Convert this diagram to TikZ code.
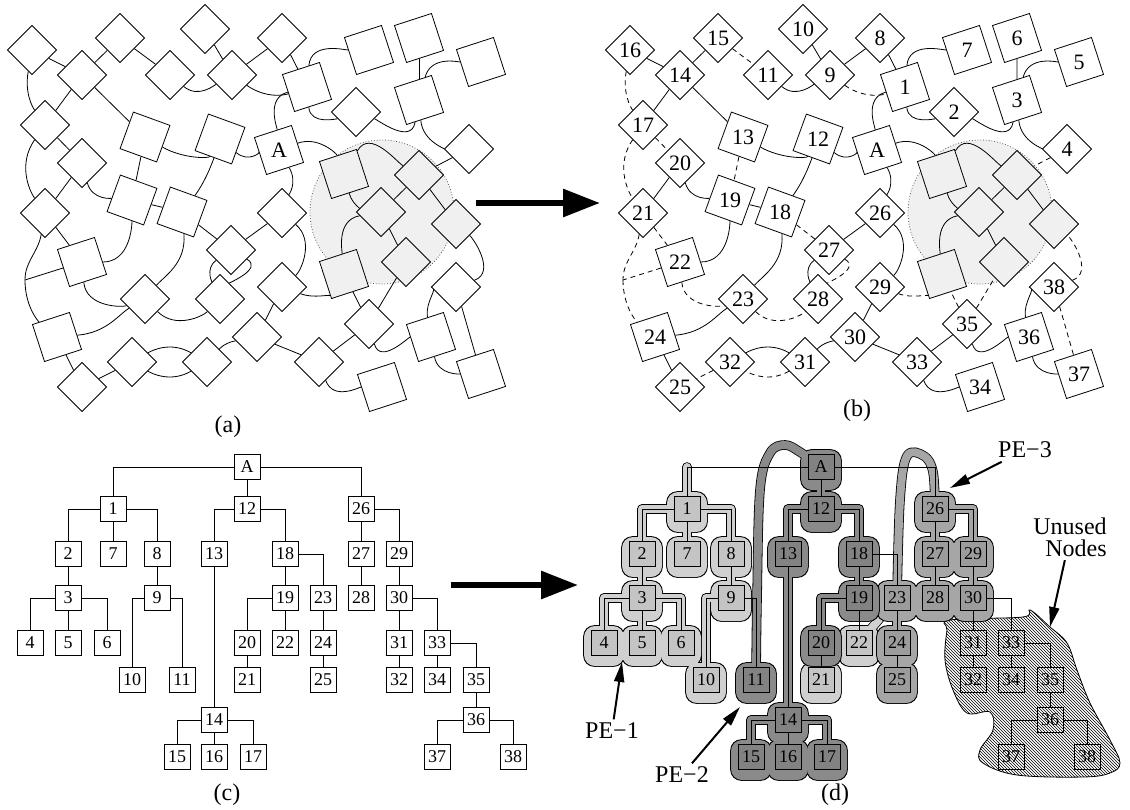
\documentclass[tikz,border=0pt]{standalone}
\usepackage{fontspec}
\setmainfont{Liberation Serif}
\usetikzlibrary{arrows.meta, shapes.geometric, backgrounds, patterns}
\definecolor{circleGray}{HTML}{F0F0F0}
\definecolor{peLight}{HTML}{D0D0D0}
\definecolor{peMid}{HTML}{A6A6A6}
\definecolor{peDark}{HTML}{8A8A8A}

\newif\ifnumbers

% nodes of the network, (b) frame
\newcommand\netnodes{%
  \foreach \n/\x/\y/\s in {16/630/50/dia, 15/718/38/dia, 10/803/29/dia, 8/880/38/dia,
      14/680/75/dia, 11/768/75/dia, 9/830/75/dia, 17/643/125/dia, 20/680/163/dia,
      21/643/213/dia, 26/880/213/dia, 27/829/250/dia, 23/743/299/dia, 28/818/299/dia,
      29/880/287/dia, 30/855/337/dia, 32/730/362/dia, 31/805/362/dia, 25/680/387/dia,
      33/917/362/dia, 35/967/324/dia, 38/1054/287/dia, 2/954/112/dia, 4/1067/149/dia,
      1/905/87/sqp, 7/967/50/sqp, 6/1017/38/sqp, 5/1079/62/sqp, 3/1017/100/sqp,
      22/680/262/sqp, 24/655/337/sqp, 36/1029/337/sqp, 34/980/387/sqp, 37/1079/374/sqp,
      13/743/137/sqm, 12/818/139/sqm, 19/730/200/sqm, 18/780/212/sqm}
    \node[\s] (n\n) at (\x,-\y) {\ifnumbers\n\fi};
  \node[sqp] (nA) at (877,-150) {A};
  \foreach \n/\x/\y/\s in {s1/942/174/sqp, s2/1017/175/dia, s3/979/212/dia,
      s4/1054/224/dia, s5/942/274/sqp, s6/1004/262/dia}
    \node[\s, fill=circleGray] (n\n) at (\x,-\y) {};
  \coordinate (j) at (623,-280);
}

% links of the network
\newcommand\netedges{%
  \draw (n16) -- (n14);
  \draw (n14) -- (n15);
  \draw[cross] (n15) -- (n11);
  \draw (n10) -- (n9);
  \draw (n9) -- (n8);
  \draw (n11) to[out=-40, in=-150] (n9);
  \draw[cross] (n9) to[out=-35, in=200] (n1);
  \draw (n14) -- (n17);
  \draw (n14) -- (n13);
  \draw[cross] (n16) to[out=-100, in=125] (n17);
  \draw[cross] (n17) -- (n20);
  \draw[cross] (n17) to[out=-125, in=125] (n21);
  \draw (n20) -- (n21);
  \draw (n20) to[out=-75, in=175] (n19);
  \draw (n13) to[out=-30, in=-120] (n12);
  \draw[cross] (n13) -- (n19);
  \draw (n12) to[out=-40, in=185] (nA);
  \draw (n12) to[bend left=10] (n18);
  \draw (n19) -- (n18);
  \draw (n1) to[out=195, in=95] (nA);
  \draw (n1) -- (n8);
  \draw (n1) to[out=85, in=180] (n7);
  \draw (n1) to[out=-85, in=-160] (n2);
  \draw (n3) to[out=-100, in=-20] (n2);
  \draw (n3) -- (n6);
  \draw (n3) to[out=75, in=180] (n5);
  \draw (n3) to[out=-85, in=180] (n4);
  \draw[cross] (n4) -- (ns2);
  \draw (nA) to[out=20, in=110] (ns1);
  \draw (nA) to[out=-60, in=70] (n26);
  \draw (ns1) to[out=60, in=150] (ns2);
  \draw (ns1) to[out=-75, in=175] (ns3);
  \draw (ns2) -- (ns3);
  \draw (ns2) -- (ns4);
  \draw (ns3) to[out=190, in=95] (ns5);
  \draw (ns3) -- (ns6);
  \draw[cross] (n21) -- (n22);
  \draw (n22) to[out=0, in=-90] (n19);
  \draw[cross] (n18) -- (n27);
  \draw (n27) -- (n26);
  \draw[cross] (n21) to[out=-100, in=90] (j);
  \draw[cross] (j) to[out=-90, in=140] (n24);
  \draw[cross] (n22) -- (j);
  \draw[cross] (n22) to[out=-85, in=200] (n23);
  \draw (n18) to[out=-85, in=50] (n23);
  \draw (n24) to[out=5, in=-150] (n23);
  \draw (n24) -- (n25);
  \draw (n27) to[out=-145, in=115] (n28);
  \draw[cross] (n27) to[out=-30, in=60] (n28);
  \draw[cross] (n23) to[out=-45, in=-135] (n28);
  \draw (n26) to[out=-40, in=40] (n29);
  \draw (n29) -- (n30);
  \draw (n30) to[out=190, in=45] (n31);
  \draw (n30) -- (n33);
  \draw (n31) to[out=150, in=30] (n32);
  \draw[cross] (n31) to[out=-150, in=-30] (n32);
  \draw[cross] (n32) -- (n25);
  \draw[cross] (n29) to[out=-20, in=-115] (ns5);
  \draw (n33) -- (n35);
  \draw (n33) to[out=-70, in=180] (n34);
  \draw[cross] (n35) -- (ns5);
  \draw[cross] (n35) -- (ns6);
  \draw (n35) to[out=-75, in=180] (n36);
  \draw (n36) to[out=100, in=180] (n38);
  \draw[cross] (n38) to[out=20, in=-40] (ns4);
  \draw[cross] (n38) -- (n37);
  \draw (n36) to[out=-80, in=180] (n37);
}

% spanning tree, (c) frame
\newcommand\treenodes{%
  \foreach \n/\x/\y in {A/247/467, 1/113/509, 12/247/509, 26/361/509,
      2/68/554, 7/113/554, 8/157/554, 13/214/554, 18/285/554, 27/361/554, 29/399/554,
      3/68/598, 9/157/598, 19/285/598, 23/323/598, 28/361/598, 30/399/598,
      4/30/643, 5/68/643, 6/107/643, 20/247/643, 22/285/643, 24/323/643, 31/399/643, 33/437/643,
      10/132/680, 11/182/680, 21/247/680, 25/323/680, 32/399/680, 34/437/680, 35/476/680,
      14/214/720, 36/476/720,
      15/177/757, 16/214/757, 17/253/757, 37/437/757, 38/513/757}
    \node[tbox] (t\n) at (\x,-\y) {\n};
}
\newcommand\treeedges{%
  \foreach \p/\c in {A/1, A/26, 1/2, 1/8, 3/4, 3/6, 9/10, 9/11, 12/13, 12/18, 14/15,
      14/17, 18/23, 19/20, 26/29, 30/33, 33/35, 36/37, 36/38}
    \draw (t\p) -| (t\c);
  \foreach \p/\c in {A/12, 1/7, 2/3, 3/5, 8/9, 13/14, 14/16, 18/19, 19/22, 20/21, 23/24,
      24/25, 26/27, 27/28, 29/30, 30/31, 31/32, 33/34, 35/36}
    \draw (t\p) -- (t\c);
}

% #1 colour, #2 boxes, #3 elbow tubes, #4 straight tubes, #5 extra path
\newcommand\peblob[5]{%
  \foreach \col/\ex in {black/0.8, #1/0}{
    \foreach \n in {#2}
      \fill[\col, rounded corners=11pt] ([shift={(-20-\ex,-23-\ex)}]t\n.center)
        rectangle ([shift={(20+\ex,17+\ex)}]t\n.center);
    \foreach \p/\c in {#3}
      \draw[tube, \col, line width=8+2*\ex] (t\p.center) -| (t\c.center);
    \foreach \p/\c in {#4}
      \draw[tube, \col, line width=8+2*\ex] (t\p.center) -- (t\c.center);
    \draw[tube, \col, line width=8+2*\ex] #5;
  }
  \foreach \n in {#2}
    \fill[#1!94!black] (t\n.south west) rectangle (t\n.north east);
}

\begin{document}
\begin{tikzpicture}[x=1pt, y=1pt, line width=0.8pt,
    dia/.style={regular polygon, regular polygon sides=4, shape border rotate=45,
      draw, fill=white, minimum size=49pt, inner sep=0pt,
      font=\fontsize{22}{22}\selectfont},
    sqp/.style={dia, shape border rotate=18, minimum size=55pt},
    sqm/.style={dia, shape border rotate=-20, minimum size=55pt},
    tbox/.style={draw, rectangle, minimum width=26pt, minimum height=25pt,
      inner sep=1pt, font=\fontsize{18}{18}\selectfont},
    tube/.style={line cap=round, line join=round},
    panel/.style={font=\fontsize{24}{22}\selectfont},
    bigarrow/.style={line width=6pt, -{Triangle[length=37pt, width=27pt]}},
    pearrow/.style={line width=2pt, -{Triangle[length=20pt, width=10pt]}}
  ]
  \useasboundingbox (0,0) rectangle (1130,-809);

  % (a) the network
  \begin{scope}[xshift=-598pt, name prefix=a-, cross/.style={}]
    \numbersfalse
    \netnodes
    \begin{scope}[on background layer]
    \begin{scope}[line width=0.8pt]
      \draw[dotted, gray!70!black, fill=circleGray] (980,-212) circle[radius=72];
      \netedges
    \end{scope}
    \end{scope}
  \end{scope}

  % (b) numbered by the search
  \begin{scope}[name prefix=b-, cross/.style={dash pattern=on 5pt off 4pt}]
    \numberstrue
    \netnodes
    \begin{scope}[on background layer]
    \begin{scope}[line width=0.8pt]
      \draw[dotted, gray!70!black, fill=circleGray] (980,-212) circle[radius=72];
      \netedges
    \end{scope}
    \end{scope}
  \end{scope}

  % (c) the tree
  \begin{scope}[name prefix=c-]
    \treenodes
    \treeedges
  \end{scope}

  % (d) the tree split over the PEs
  \begin{scope}[xshift=574pt, name prefix=d-]
    \treenodes
    \treeedges
    \begin{scope}[on background layer]
    \begin{scope}[line width=0.8pt]
      \draw[pattern=north west lines] plot[smooth cycle, tension=0.6] coordinates {
        (376,-620) (449,-617) (456,-610) (476,-627) (493,-643) (503,-670) (516,-703)
        (536,-740) (546,-763) (536,-773) (509,-777) (443,-775) (409,-763) (406,-750)
        (419,-730) (416,-712) (393,-713) (379,-690) (371,-660) (373,-630)};
      \peblob{peLight}{1,2,3,4,5,6,7,8,9,10}{1/2, 1/8, 3/4, 3/6, 9/10}
        {1/7, 2/3, 3/5, 8/9}{(t1.center) -- (113,-467)}
      \peblob{peLight}{21,22}{22/21}{22/23}{}
      \peblob{peMid}{26,27,28,29,30,23,24,25}{26/29}{26/27, 27/28, 29/30, 23/24, 24/25}
        {plot[smooth, tension=0.6] coordinates {(t26.center) (359,-472) (350,-456)
          (333,-456) (326,-500) (t23.center)}}
      \peblob{peDark}{A,12,13,14,15,16,17,18,19,20,11}{12/13, 12/18, 14/15, 14/17, 19/20}
        {A/12, 13/14, 14/16, 18/19}
        {plot[smooth, tension=0.6] coordinates {(tA.center) (226,-452) (211,-445)
          (196,-453) (186,-490) (183,-600) (t11.center)}}
    \end{scope}
    \end{scope}
  \end{scope}

  % panel arrows
  \coordinate (ab1) at (476,-203);
  \coordinate (ab2) at (600,-203);
  \draw[bigarrow] (ab1) -- (ab2);
  \coordinate (cd1) at (451,-585);
  \coordinate (cd2) at (578,-585);
  \draw[bigarrow] (cd1) -- (cd2);

  % captions
  \node[panel] (capa) at (228,-427) {(a)};
  \node[panel] (capb) at (857,-411) {(b)};
  \node[panel] (capc) at (227,-795) {(c)};
  \node[panel] (capd) at (835,-795) {(d)};

  % PE labels
  \node[panel] (pe1) at (612,-731) {PE−1};
  \coordinate (pe1tip) at (622,-662);
  \draw[pearrow] (pe1) -- (pe1tip);
  \node[panel] (pe2) at (682,-775) {PE−2};
  \coordinate (pe2tip) at (740,-707);
  \draw[pearrow] (pe2) -- (pe2tip);
  \node[panel] (pe3) at (1025,-450) {PE−3};
  \coordinate (pe3tip) at (950,-488);
  \draw[pearrow] (pe3) -- (pe3tip);
  \node[panel, align=right] (unused) at (1070,-537) {Unused\\Nodes};
  \coordinate (unusedtip) at (1050,-627);
  \draw[pearrow] (unused) -- (unusedtip);
\end{tikzpicture}
\end{document}
